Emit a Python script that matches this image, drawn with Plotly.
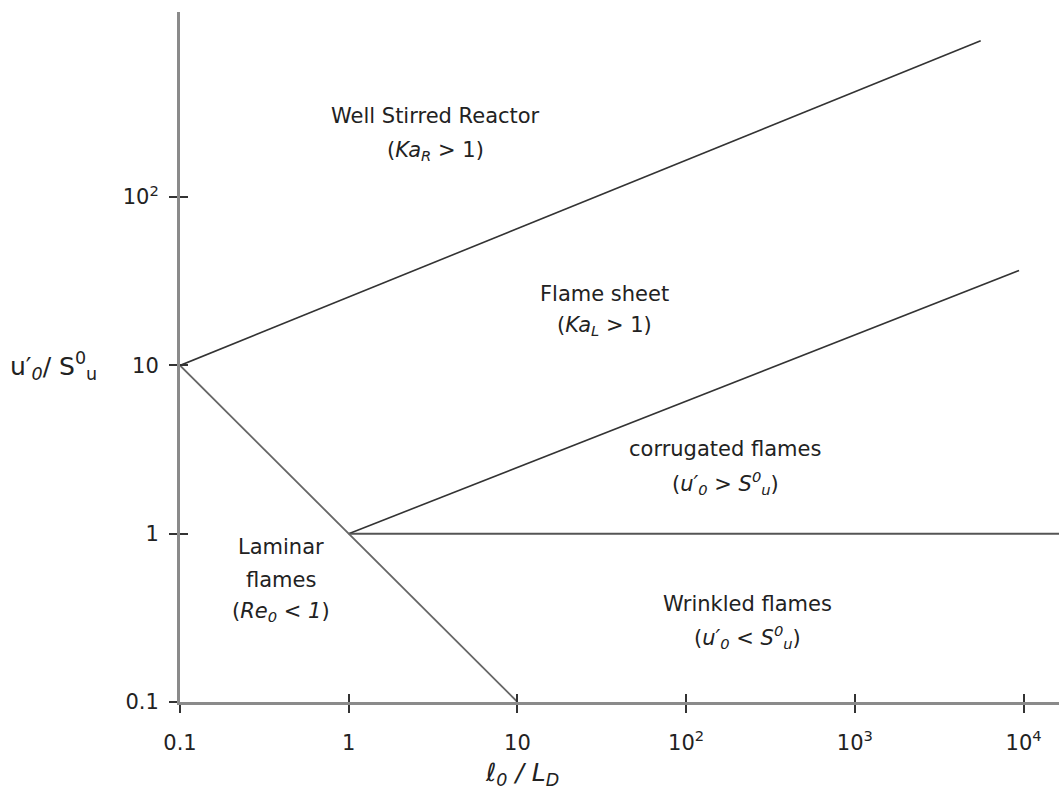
import plotly.graph_objects as go

# ---- data ----
tick_vals = [0.1, 1, 10, 100, 1000, 10000]
x_tick_text = ["0.1", "1", "10", "10<sup>2</sup>", "10<sup>3</sup>", "10<sup>4</sup>"]
y_tick_vals = [0.1, 1, 10, 100]
y_tick_text = ["0.1", "1", "10", "10<sup>2</sup>"]

kaR_x = [0.1, 5570]
kaR_y = [10, 849]
kaL_x = [1, 9400]
kaL_y = [1, 36.7]
hor_x = [1, 20000]
hor_y = [1, 1]
re_x = [0.1, 10]
re_y = [10, 0.1]

FONT = "DejaVu Sans"
fig = go.Figure()

fig.add_trace(go.Scatter(x=kaR_x, y=kaR_y, mode="lines",
                         line=dict(color="#333333", width=1.6), showlegend=False, hoverinfo="skip"))
fig.add_trace(go.Scatter(x=kaL_x, y=kaL_y, mode="lines",
                         line=dict(color="#333333", width=1.6), showlegend=False, hoverinfo="skip"))
fig.add_trace(go.Scatter(x=hor_x, y=hor_y, mode="lines",
                         line=dict(color="#555555", width=2), showlegend=False, hoverinfo="skip"))
fig.add_trace(go.Scatter(x=re_x, y=re_y, mode="lines",
                         line=dict(color="#666666", width=1.8), showlegend=False, hoverinfo="skip"))
# dummy trace for overlay axes (inside ticks)
fig.add_trace(go.Scatter(x=[1], y=[1], xaxis="x2", yaxis="y2", mode="markers",
                         marker=dict(opacity=0), showlegend=False, hoverinfo="skip"))

xr = [-1, 4.21]
yr = [-1, 3.1]
common_tick = dict(tickcolor="#333333", tickwidth=1.5, ticklen=8)

W, H = 1059, 799
OFF = 0
pl, pr, pt, pb = 180, 0, 12, 97

fig.update_layout(
    width=W, height=H,
    margin=dict(l=pl, r=pr, t=pt, b=pb),
    plot_bgcolor="white", paper_bgcolor="white",
    font=dict(family=FONT, size=17, color="#222222"),
    xaxis=dict(type="log", range=xr, showline=True, linecolor="#8a8a8a", linewidth=3,
               tickvals=tick_vals, ticktext=x_tick_text, ticks="outside",
               showgrid=False, zeroline=False, ticklabelstandoff=12,
               tickfont=dict(size=21), **common_tick),
    yaxis=dict(type="log", range=yr, showline=True, linecolor="#8a8a8a", linewidth=3,
               tickvals=y_tick_vals, ticktext=y_tick_text, ticks="outside",
               showgrid=False, zeroline=False, ticklabelstandoff=6,
               tickfont=dict(size=21), **common_tick),
    xaxis2=dict(type="log", overlaying="x", matches="x", anchor="y", side="bottom",
                tickvals=tick_vals, ticks="inside", showticklabels=False,
                showgrid=False, zeroline=False, showline=False, **common_tick),
    yaxis2=dict(type="log", overlaying="y", matches="y", anchor="x", side="left",
                tickvals=y_tick_vals, ticks="inside", showticklabels=False,
                showgrid=False, zeroline=False, showline=False, **common_tick),
)

lab = dict(size=21, color="#222222", family=FONT)
texts = [
    ("Well Stirred Reactor", 0.515, 2.482),
    ("(<i>Ka<sub>R</sub></i> > 1)", 0.515, 2.274),
    ("Flame sheet", 1.515, 1.423),
    ("(<i>Ka<sub>L</sub></i> > 1)", 1.515, 1.232),
    ("corrugated flames", 2.231, 0.506),
    ("(<i>u′<sub>0</sub></i> > <i>S<sup>0</sup><sub>u</sub></i>)", 2.231, 0.304),
    ("Laminar", -0.402, -0.077),
    ("flames", -0.402, -0.274),
    ("(<i>Re<sub>0</sub> < 1</i>)", -0.402, -0.464),
    ("Wrinkled flames", 2.361, -0.417),
    ("(<i>u′<sub>0</sub></i> < <i>S<sup>0</sup><sub>u</sub></i>)", 2.361, -0.613),
]
for t, x, y in texts:
    fig.add_annotation(text=t, x=x, y=y, xref="x", yref="y", showarrow=False,
                       font=lab, xanchor="center", yanchor="middle")

pw, ph = W - pl - pr, H - pt - pb


def px_to_paper(px, py):
    return (px - OFF - pl) / pw, (H - pb - (py - OFF)) / ph


tx, ty = px_to_paper(8, 366)
fig.add_annotation(text="u′<sub><i>0</i></sub>/ S<sup>0</sup><sub>u</sub>", x=tx, y=ty,
                   xref="paper", yref="paper", showarrow=False,
                   font=dict(size=25, family=FONT, color="#222222"),
                   xanchor="left", yanchor="middle")
tx, ty = px_to_paper(522, 774)
fig.add_annotation(text="<i>ℓ<sub>0</sub> / L<sub>D</sub></i>", x=tx, y=ty,
                   xref="paper", yref="paper", showarrow=False,
                   font=dict(size=25, family=FONT, color="#222222"),
                   xanchor="center", yanchor="middle")

fig.write_html("out.html", config={"displayModeBar": False},
               post_script="document.body.style.margin='0';document.body.style.overflow='hidden';")
